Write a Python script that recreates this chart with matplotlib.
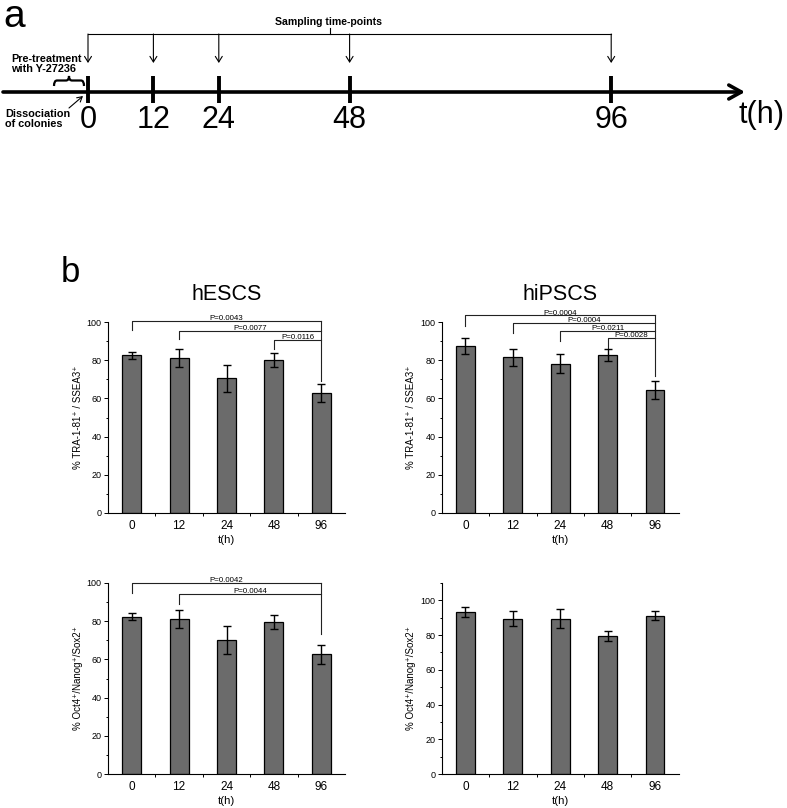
#!/usr/bin/env python3
"""
Timeline of sampling + pluripotency markers (hESCS / hiPSCS)
"""

import numpy as np
import matplotlib
matplotlib.use('Agg')
import matplotlib.pyplot as plt
from matplotlib.path import Path
from matplotlib.patches import PathPatch

plt.rcParams['font.family'] = ['Liberation Sans', 'DejaVu Sans']

# ===== DATA =====
timepoints = [0, 12, 24, 48, 96]
tick_labels = ['0', '12', '24', '48', '96']

hesc_tra = [82.6, 81.2, 70.5, 80.0, 62.7]
hesc_tra_err = [1.8, 4.7, 7.2, 3.8, 4.8]
hipsc_tra = [87.3, 81.6, 78.2, 82.7, 64.2]
hipsc_tra_err = [4.2, 4.4, 5.1, 3.0, 4.7]
hesc_onx = [82.4, 81.1, 70.3, 79.8, 62.6]
hesc_onx_err = [1.7, 4.6, 7.3, 3.7, 4.9]
hipsc_onx = [93.4, 89.5, 89.4, 79.3, 91.1]
hipsc_onx_err = [3.0, 4.5, 5.4, 2.8, 2.6]

# comparisons against 96 h (category indices) and p-values
hesc_tra_pairs = [(0, 4), (1, 4), (3, 4)]
hesc_tra_p = ['P=0.0043', 'P=0.0077', 'P=0.0116']
hipsc_tra_pairs = [(0, 4), (1, 4), (2, 4), (3, 4)]
hipsc_tra_p = ['P=0.0004', 'P=0.0004', 'P=0.0211', 'P=0.0028']
hesc_onx_pairs = [(0, 4), (1, 4)]
hesc_onx_p = ['P=0.0042', 'P=0.0044']

W, H = 787, 808
fig = plt.figure(figsize=(W / 100, H / 100), dpi=100)

# ===== PANEL a: TIMELINE =====
PX0, PXH = 88, 5.45          # pixel of t=0 and pixels per hour
hp = lambda px: (px - PX0) / PXH   # pixel -> hours
ax_a = fig.add_axes([0, 1 - 150 / H, 1, 150 / H])
ax_a.axis('off')
ax_a.set_xlim(hp(0), hp(W))
ax_a.set_ylim(150, 0)

ax_a.annotate('', xy=(hp(745), 92), xytext=(hp(3), 92),
              arrowprops=dict(arrowstyle='->,head_length=0.9,head_width=0.5',
                              lw=2.6, color='black', shrinkA=0, shrinkB=0))
ax_a.vlines(timepoints, 76, 103, lw=2.8, color='black')
for t, lab in zip(timepoints, tick_labels):
    ax_a.text(t, 120, lab, ha='center', va='center', fontsize=22)
ax_a.text(hp(738), 115, 't(h)', ha='left', va='center', fontsize=22)

# sampling bracket
ax_a.plot([timepoints[0], timepoints[-1]], [34, 34], color='black', lw=0.8)
ax_a.plot([hp(330), hp(330)], [28, 34], color='black', lw=0.8)
for t in timepoints:
    ax_a.annotate('', xy=(t, 63), xytext=(t, 34),
                  arrowprops=dict(arrowstyle='->,head_length=0.4,head_width=0.25',
                                  lw=0.8, color='black', shrinkA=0, shrinkB=0))
ax_a.text(hp(328), 22, 'Sampling time-points', ha='center', va='center',
          fontsize=7.6, fontweight='bold')

ax_a.text(hp(11), 64, 'Pre-treatment\nwith Y-27236', ha='left', va='center',
          fontsize=7.8, fontweight='bold', linespacing=1.05)
# brace under the pre-treatment text
x0, x1, xm = hp(54), hp(84), hp(69)
yb, yc, yt = 86, 80.5, 76
d = 3 / PXH
verts = [(x0, yb), (x0, yc), (x0 + d, yc), (xm - d, yc), (xm, yc), (xm, yt),
         (xm, yc), (xm + d, yc), (x1 - d, yc), (x1, yc), (x1, yb)]
codes = [Path.MOVETO, Path.CURVE3, Path.CURVE3, Path.LINETO, Path.CURVE3, Path.CURVE3,
         Path.CURVE3, Path.CURVE3, Path.LINETO, Path.CURVE3, Path.CURVE3]
ax_a.add_patch(PathPatch(Path(verts, codes), fill=False, lw=1.6, color='black'))

ax_a.text(hp(5), 119, 'Dissociation\nof colonies', ha='left', va='center',
          fontsize=7.8, fontweight='bold', linespacing=1.05)
ax_a.annotate('', xy=(hp(83), 96), xytext=(hp(69), 108),
              arrowprops=dict(arrowstyle='->,head_length=0.35,head_width=0.2',
                              lw=0.8, color='black', shrinkA=0, shrinkB=0))

fig.text(3 / W, 1 - 17 / H, 'a', fontsize=28, ha='left', va='center')
fig.text(61 / W, 1 - 272 / H, 'b', fontsize=25, ha='left', va='center')


# ===== PANEL b: BARS =====
def bar_panel(rect, vals, errs, ylabel, ytop, title=None):
    ax = fig.add_axes(rect)
    x = np.arange(len(timepoints))
    ax.bar(x, vals, width=0.4, color='#6b6b6b', edgecolor='black', lw=0.9, zorder=2)
    ax.errorbar(x, vals, yerr=errs, fmt='none', ecolor='black', elinewidth=1,
                capsize=2.6, capthick=1, zorder=3)
    ax.set_xlim(-0.5, 4.5)
    ax.set_ylim(0, ytop)
    ax.set_xticks(x)
    ax.set_xticklabels(tick_labels, fontsize=8.5)
    ax.set_xticks(x[:-1] + 0.5, minor=True)
    ax.tick_params(axis='x', which='major', length=0, pad=5)
    ax.tick_params(axis='x', which='minor', length=2.2, width=0.7)
    ax.set_yticks(range(0, 101, 20))
    ax.set_yticks(range(10, int(ytop) + 1, 20), minor=True)
    ax.tick_params(axis='y', which='major', length=3, width=0.7, labelsize=6.5, pad=1.5)
    ax.tick_params(axis='y', which='minor', length=1.8, width=0.7)
    for s in ['top', 'right']:
        ax.spines[s].set_visible(False)
    for s in ['left', 'bottom']:
        ax.spines[s].set_linewidth(0.8)
    ax.set_xlabel('t(h)', fontsize=8.2, labelpad=2)
    ax.set_ylabel(ylabel, fontsize=7, labelpad=3)
    if title:
        ax.set_title(title, fontsize=15.5, pad=16)
    return ax


def brackets(ax, pairs, labels, top, step, drop, end):
    for k, ((i, j), lab) in enumerate(zip(pairs, labels)):
        y = top - k * step
        ax.plot([i, i, j], [y - drop, y, y], color='#222222', lw=0.8, clip_on=False)
        ax.text((i + j) / 2, y + 0.4, lab, ha='center', va='baseline',
                fontsize=5.7, clip_on=False)
    j = pairs[0][1]
    ax.plot([j, j], [top, end], color='#222222', lw=0.8, clip_on=False)


ylab_tra = '% TRA-1-81\u207a / SSEA3\u207a'
ylab_onx = '% Oct4\u207a/Nanog\u207a/Sox2\u207a'

hgt = 191 / H
top_b = 1 - 513 / H
bot_b = 1 - 774 / H
wl = 237 / W

ax1 = bar_panel([108 / W, top_b, wl, hgt], hesc_tra, hesc_tra_err, ylab_tra, 100, 'hESCS')
brackets(ax1, hesc_tra_pairs, hesc_tra_p, 100.5, 5, 4.5, 69)

ax2 = bar_panel([441.7 / W, top_b, wl, hgt], hipsc_tra, hipsc_tra_err, ylab_tra, 100, 'hiPSCS')
brackets(ax2, hipsc_tra_pairs, hipsc_tra_p, 103.5, 4, 5.5, 71.5)

ax3 = bar_panel([108 / W, bot_b, wl, hgt], hesc_onx, hesc_onx_err, ylab_onx, 100)
brackets(ax3, hesc_onx_pairs, hesc_onx_p, 100, 5.8, 5, 73.5)

ax4 = bar_panel([441.7 / W, bot_b, wl, hgt], hipsc_onx, hipsc_onx_err, ylab_onx, 110)

plt.savefig('out.png', dpi=100)
